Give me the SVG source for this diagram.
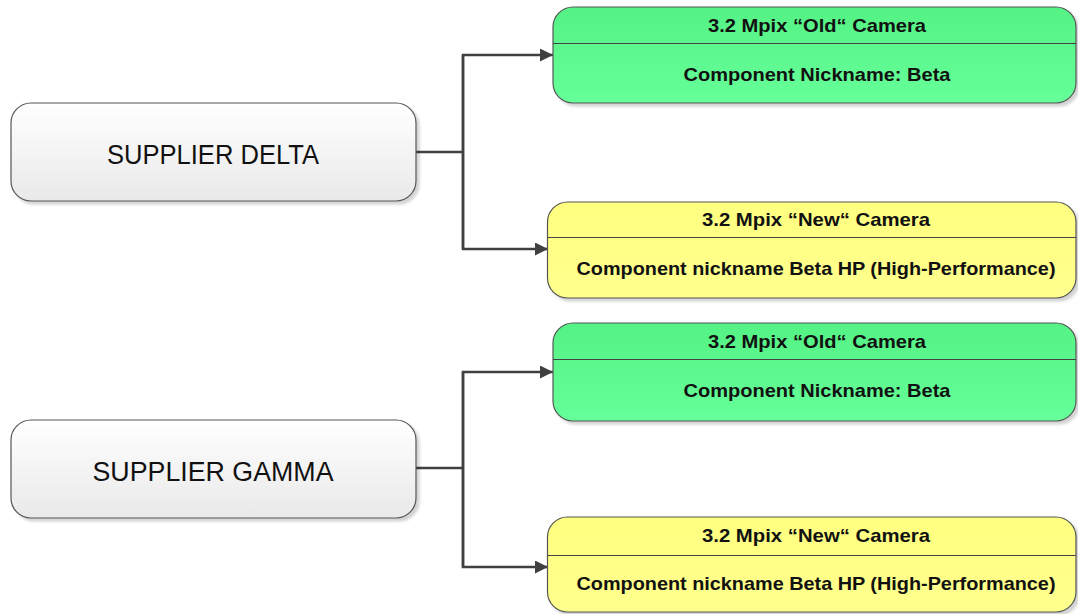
<svg xmlns="http://www.w3.org/2000/svg" width="1078" height="614" viewBox="0 0 1078 614">
  <defs>
    <linearGradient id="gSupplier" x1="0" y1="0" x2="0" y2="1">
      <stop offset="0" stop-color="#ffffff"/>
      <stop offset="1" stop-color="#e9e9e9"/>
    </linearGradient>
    <linearGradient id="gGreen" x1="0" y1="0" x2="0" y2="1">
      <stop offset="0" stop-color="#55f285"/>
      <stop offset="1" stop-color="#66ff99"/>
    </linearGradient>
    <linearGradient id="gYellow" x1="0" y1="0" x2="0" y2="1">
      <stop offset="0" stop-color="#ffff80"/>
      <stop offset="1" stop-color="#ffff8e"/>
    </linearGradient>
    <filter id="shadow" x="-5%" y="-10%" width="115%" height="130%">
      <feGaussianBlur in="SourceAlpha" stdDeviation="1.5"/>
      <feOffset dx="3" dy="3" result="b"/>
      <feComponentTransfer><feFuncA type="linear" slope="0.18"/></feComponentTransfer>
      <feMerge><feMergeNode/><feMergeNode in="SourceGraphic"/></feMerge>
    </filter>
    <marker id="arrow" viewBox="0 0 10 10" refX="10" refY="5" markerWidth="6.4" markerHeight="5.2" markerUnits="strokeWidth" orient="auto">
      <path d="M0,0 L10,5 L0,10 z" fill="#404040"/>
    </marker>
  </defs>
  <style>
    .box { stroke: #555555; stroke-width: 1.2; filter: url(#shadow); }
    .sup { fill: url(#gSupplier); }
    .green { fill: url(#gGreen); }
    .yellow { fill: url(#gYellow); }
    .div { stroke: #444444; stroke-width: 1.2; }
    .supText { font-family: "Liberation Sans", Arial, sans-serif; font-size: 27px; fill: #111111; text-anchor: middle; }
    .lbl { font-family: "Liberation Sans", Arial, sans-serif; font-weight: bold; font-size: 19px; fill: #111111; text-anchor: middle; }
    .conn { fill: none; stroke: #404040; stroke-width: 2.5; }
  </style>

  <g id="connectors">
    <path class="conn" d="M416,152 H463"/>
    <path class="conn" d="M463,249 V55 H553" marker-end="url(#arrow)"/>
    <path class="conn" d="M463,55 V249 H548" marker-end="url(#arrow)"/>
    <path class="conn" d="M416,468 H463"/>
    <path class="conn" d="M463,567 V372 H553" marker-end="url(#arrow)"/>
    <path class="conn" d="M463,372 V567 H548" marker-end="url(#arrow)"/>
  </g>

  <g id="supplier-delta">
    <rect class="box sup" x="11" y="103" width="405" height="98" rx="20"/>
    <text class="supText" x="213" y="164" textLength="212" lengthAdjust="spacingAndGlyphs">SUPPLIER DELTA</text>
  </g>

  <g id="supplier-gamma">
    <rect class="box sup" x="11" y="420" width="405" height="98" rx="20"/>
    <text class="supText" x="213" y="481" textLength="241" lengthAdjust="spacingAndGlyphs">SUPPLIER GAMMA</text>
  </g>

  <g id="delta-old-camera">
    <rect class="box green" x="553" y="7" width="523" height="96" rx="20"/>
    <line class="div" x1="553" y1="43.5" x2="1076" y2="43.5"/>
    <text class="lbl" x="817" y="32" textLength="218" lengthAdjust="spacingAndGlyphs">3.2 Mpix “Old“ Camera</text>
    <text class="lbl" x="817" y="81" textLength="267" lengthAdjust="spacingAndGlyphs">Component Nickname: Beta</text>
  </g>

  <g id="delta-new-camera">
    <rect class="box yellow" x="547.5" y="202" width="528.5" height="96" rx="20"/>
    <line class="div" x1="547.5" y1="237.5" x2="1076" y2="237.5"/>
    <text class="lbl" x="816" y="226" textLength="228" lengthAdjust="spacingAndGlyphs">3.2 Mpix “New“ Camera</text>
    <text class="lbl" x="816" y="275" textLength="479" lengthAdjust="spacingAndGlyphs">Component nickname Beta HP (High-Performance)</text>
  </g>

  <g id="gamma-old-camera">
    <rect class="box green" x="553" y="323" width="523" height="98" rx="20"/>
    <line class="div" x1="553" y1="359.5" x2="1076" y2="359.5"/>
    <text class="lbl" x="817" y="348" textLength="218" lengthAdjust="spacingAndGlyphs">3.2 Mpix “Old“ Camera</text>
    <text class="lbl" x="817" y="397" textLength="267" lengthAdjust="spacingAndGlyphs">Component Nickname: Beta</text>
  </g>

  <g id="gamma-new-camera">
    <rect class="box yellow" x="547.5" y="517" width="528.5" height="95" rx="20"/>
    <line class="div" x1="547.5" y1="555.5" x2="1076" y2="555.5"/>
    <text class="lbl" x="816" y="542" textLength="228" lengthAdjust="spacingAndGlyphs">3.2 Mpix “New“ Camera</text>
    <text class="lbl" x="816" y="590" textLength="479" lengthAdjust="spacingAndGlyphs">Component nickname Beta HP (High-Performance)</text>
  </g>
</svg>
